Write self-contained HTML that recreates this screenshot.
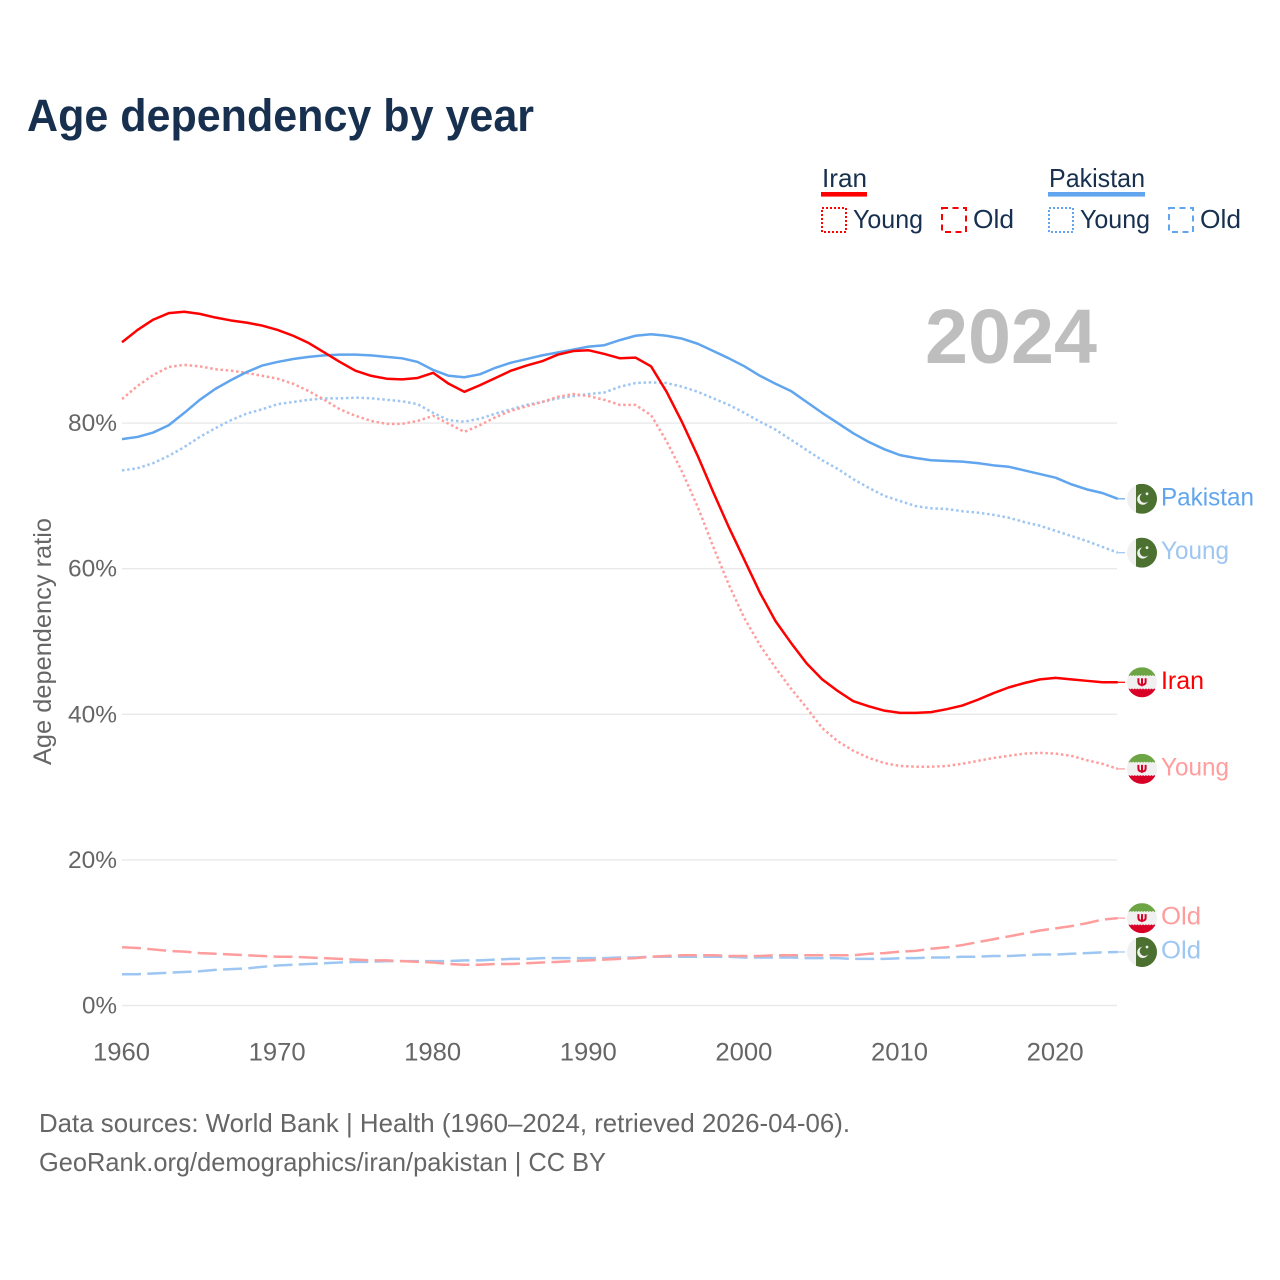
<!DOCTYPE html>
<html lang="en">
<head>
<meta charset="utf-8">
<title>Age dependency by year</title>
<style>
html,body{margin:0;padding:0;background:#fff;width:1280px;height:1280px;overflow:hidden}
svg{display:block}
text{font-family:"Liberation Sans",sans-serif}
</style>
</head>
<body>
<svg id="chart" width="1280" height="1280" viewBox="0 0 1280 1280" xmlns="http://www.w3.org/2000/svg">
  <defs>
    <clipPath id="flag-clip"><circle cx="0" cy="0" r="15"/></clipPath>
    <g id="flag-pk" clip-path="url(#flag-clip)">
      <rect x="-15" y="-15" width="30" height="30" fill="#f0f0f0"/>
      <rect x="-6" y="-15" width="21" height="30" fill="#4b7030"/>
      <circle cx="0.8" cy="0.4" r="5.6" fill="#f0f0f0"/>
      <circle cx="2.6" cy="-0.9" r="4.9" fill="#4b7030"/>
      <circle cx="5" cy="-5" r="1.4" fill="#f0f0f0"/>
    </g>
    <g id="flag-ir" clip-path="url(#flag-clip)">
      <rect x="-15" y="-15" width="30" height="30" fill="#f0f0f0"/>
      <rect x="-15" y="-15" width="30" height="8.6" fill="#6da544"/>
      <rect x="-15" y="6.4" width="30" height="9" fill="#d80027"/>
      <line x1="-15" y1="-6.4" x2="15" y2="-6.4" stroke="#f0f0f0" stroke-width="1.2" stroke-dasharray="1.4 1.4"/>
      <line x1="-15" y1="6.4" x2="15" y2="6.4" stroke="#f0f0f0" stroke-width="1.2" stroke-dasharray="1.4 1.4"/>
      <path d="M-3.6 -4 V-0.4 Q-3.6 2.6 0 2.6 Q3.6 2.6 3.6 -0.4 V-4 M0 -4 V4" fill="none" stroke="#d80027" stroke-width="2"/>
    </g>
  </defs>

  <text x="27" y="131" font-size="45" font-weight="700" fill="#18304f" textLength="507" lengthAdjust="spacingAndGlyphs">Age dependency by year</text>

  <g font-size="26" fill="#18304f">
    <g>
      <text x="822" y="187" textLength="45" lengthAdjust="spacingAndGlyphs">Iran</text>
      <rect x="821" y="192" width="46" height="4.6" fill="#ff0000"/>
      <rect x="822" y="208" width="24" height="24" fill="none" stroke="#ff0000" stroke-width="2" stroke-dasharray="2 2"/>
      <text x="853" y="228" textLength="70" lengthAdjust="spacingAndGlyphs">Young</text>
      <rect x="942" y="208" width="24" height="24" fill="none" stroke="#ff0000" stroke-width="2" stroke-dasharray="6 4.5"/>
      <text x="973" y="228" textLength="41" lengthAdjust="spacingAndGlyphs">Old</text>
    </g>
    <g>
      <text x="1049" y="187" textLength="96" lengthAdjust="spacingAndGlyphs">Pakistan</text>
      <rect x="1048" y="192" width="97" height="4.6" fill="#60a5ee"/>
      <rect x="1049" y="208" width="24" height="24" fill="none" stroke="#60a5ee" stroke-width="2" stroke-dasharray="2 2"/>
      <text x="1080" y="228" textLength="70" lengthAdjust="spacingAndGlyphs">Young</text>
      <rect x="1169" y="208" width="24" height="24" fill="none" stroke="#60a5ee" stroke-width="2" stroke-dasharray="6 4.5"/>
      <text x="1200" y="228" textLength="41" lengthAdjust="spacingAndGlyphs">Old</text>
    </g>
  </g>

  <text x="925" y="363" font-size="77" font-weight="700" fill="#bebebe" textLength="172" lengthAdjust="spacingAndGlyphs">2024</text>

  <g id="grid"></g>
  <g id="y-ticks"></g>
  <g id="x-ticks"></g>
  <text transform="translate(51,765) rotate(-90)" font-size="25" fill="#666666" textLength="247" lengthAdjust="spacingAndGlyphs">Age dependency ratio</text>
  <g id="series"></g>
  <g id="ends"></g>

  <text x="39" y="1132" font-size="26" fill="#666666" textLength="811" lengthAdjust="spacingAndGlyphs">Data sources: World Bank | Health (1960–2024, retrieved 2026-04-06).</text>
  <text x="39" y="1171" font-size="26" fill="#666666" textLength="567" lengthAdjust="spacingAndGlyphs">GeoRank.org/demographics/iran/pakistan | CC BY</text>
</svg>
<script>
const startYear = 1960;
const xTickYears = [1960, 1970, 1980, 1990, 2000, 2010, 2020];
const xTickWidths = [57];
const yTickValues = [0, 20, 40, 60, 80];

const iranTotal = [91.1,92.8,94.2,95.1,95.3,95.0,94.5,94.1,93.8,93.4,
  92.8,92.0,91.0,89.7,88.4,87.2,86.5,86.1,86.0,86.2,
  86.9,85.4,84.3,85.2,86.2,87.2,87.9,88.5,89.4,89.9,
  90.0,89.5,88.9,89.0,87.8,84.3,80.1,75.5,70.5,65.7,
  61.2,56.7,52.8,49.8,47.0,44.8,43.2,41.8,41.1,40.5,
  40.2,40.2,40.3,40.7,41.2,42.0,42.9,43.7,44.3,44.8,
  45.0,44.8,44.6,44.4,44.4];
const pakistanTotal = [77.8,78.1,78.7,79.7,81.4,83.2,84.7,85.9,87.0,87.9,
  88.4,88.8,89.1,89.3,89.4,89.4,89.3,89.1,88.9,88.4,
  87.3,86.5,86.3,86.7,87.6,88.3,88.8,89.3,89.7,90.1,
  90.5,90.7,91.4,92.0,92.2,92.0,91.6,90.9,89.9,88.9,
  87.8,86.5,85.4,84.4,82.9,81.4,80.0,78.6,77.4,76.4,
  75.6,75.2,74.9,74.8,74.7,74.5,74.2,74.0,73.5,73.0,
  72.5,71.6,70.9,70.4,69.6];
const iranYoung = [83.3,85.1,86.6,87.7,88.0,87.8,87.4,87.2,86.9,86.5,
  86.1,85.4,84.4,83.2,81.9,81.0,80.3,79.9,79.9,80.3,
  81.0,79.9,78.8,79.7,80.8,81.7,82.3,82.9,83.6,84.0,
  83.7,83.2,82.5,82.5,81.1,77.5,73.3,68.5,63.0,57.8,
  53.2,49.5,46.4,43.5,40.9,38.1,36.3,35.0,34.0,33.3,
  32.9,32.8,32.8,32.9,33.2,33.6,34.0,34.3,34.6,34.7,
  34.6,34.3,33.7,33.2,32.5];
const pakistanYoung = [73.5,73.8,74.5,75.5,76.7,78.1,79.3,80.4,81.3,81.9,
  82.6,82.9,83.2,83.4,83.4,83.5,83.4,83.2,83.0,82.6,
  81.4,80.4,80.2,80.6,81.3,81.9,82.5,82.9,83.4,83.7,
  84.0,84.2,85.0,85.5,85.6,85.5,85.0,84.3,83.4,82.5,
  81.4,80.2,79.1,77.7,76.3,74.9,73.7,72.3,71.1,70.0,
  69.3,68.6,68.3,68.2,67.9,67.7,67.4,67.0,66.4,65.9,
  65.2,64.5,63.8,63.0,62.2];
const iranOld = [8.0,7.9,7.7,7.5,7.4,7.2,7.1,7.0,6.9,6.8,
  6.7,6.7,6.6,6.5,6.4,6.3,6.2,6.2,6.1,6.0,
  5.9,5.7,5.6,5.6,5.7,5.7,5.8,5.9,6.0,6.1,
  6.2,6.3,6.4,6.5,6.7,6.8,6.9,6.9,6.9,6.8,
  6.8,6.8,6.9,6.9,6.9,6.9,6.9,6.9,7.1,7.2,
  7.4,7.5,7.8,8.0,8.3,8.7,9.1,9.5,9.9,10.3,
  10.6,10.9,11.3,11.8,12.0];
const pakistanOld = [4.3,4.3,4.4,4.5,4.6,4.7,4.9,5.0,5.1,5.3,
  5.5,5.6,5.7,5.8,5.9,6.0,6.0,6.1,6.1,6.1,
  6.1,6.1,6.2,6.2,6.3,6.4,6.4,6.5,6.5,6.5,
  6.5,6.5,6.6,6.6,6.7,6.7,6.7,6.7,6.7,6.7,
  6.6,6.6,6.6,6.6,6.5,6.5,6.5,6.4,6.4,6.4,
  6.5,6.5,6.6,6.6,6.7,6.7,6.8,6.8,6.9,7.0,
  7.0,7.1,7.2,7.3,7.35];

const NS = 'http://www.w3.org/2000/svg';
const xScale = function (i) { return 122 + i * 15.56; };
const yScale = function (v) { return 1005.5 - v * 7.28; };
const $ = function (id) { return document.getElementById(id); };

/* gridlines and y ticks */
yTickValues.forEach(function (v) {
  const g = document.createElementNS(NS, 'line');
  
  
  g.setAttribute('x1', 122);
  g.setAttribute('x2', 1117);
  g.setAttribute('y1', yScale(v));
  g.setAttribute('y2', yScale(v));
  g.setAttribute('stroke', '#e9e9e9');
  g.setAttribute('stroke-width', '1.4');
  $('grid').appendChild(g);

  const t = document.createElementNS(NS, 'text');
  
  
  t.setAttribute('x', 117);
  t.setAttribute('y', yScale(v) + 8);
  t.setAttribute('text-anchor', 'end');
  t.setAttribute('font-size', '24');
  t.setAttribute('fill', '#666666');
  t.setAttribute('textLength', v === 0 ? 35 : 49);
  t.setAttribute('lengthAdjust', 'spacingAndGlyphs');
  t.textContent = v + '%';
  $('y-ticks').appendChild(t);
});

/* x ticks */
xTickYears.forEach(function (yr) {
  const t = document.createElementNS(NS, 'text');
  
  
  t.setAttribute('x', xScale(yr - startYear) - 0.5);
  t.setAttribute('y', 1060.5);
  t.setAttribute('text-anchor', 'middle');
  t.setAttribute('font-size', '25');
  t.setAttribute('fill', '#666666');
  t.setAttribute('textLength', xTickWidths[0]);
  t.setAttribute('lengthAdjust', 'spacingAndGlyphs');
  t.textContent = String(yr);
  $('x-ticks').appendChild(t);
});

/* series drawn back to front */
const seriesList = [
  { key: 'pakistan-old', values: pakistanOld, color: '#9dc6f2', dash: '19 6.3', flag: 'flag-pk', label: 'Old', w: 40 },
  { key: 'iran-old', values: iranOld, color: '#ff9d9d', dash: '19 6.3', flag: 'flag-ir', label: 'Old', w: 40 },
  { key: 'pakistan-young', values: pakistanYoung, color: '#9dc6f2', dash: '2.5 2.7', flag: 'flag-pk', label: 'Young', w: 68 },
  { key: 'iran-young', values: iranYoung, color: '#ff9d9d', dash: '2.5 2.7', flag: 'flag-ir', label: 'Young', w: 68 },
  { key: 'pakistan', values: pakistanTotal, color: '#60a5ee', dash: '', flag: 'flag-pk', label: 'Pakistan', w: 93 },
  { key: 'iran', values: iranTotal, color: '#ff0000', dash: '', flag: 'flag-ir', label: 'Iran', w: 43 }
];

seriesList.forEach(function (s) {
  const pts = s.values.map(function (v, i) {
    return xScale(i).toFixed(2) + ',' + yScale(v).toFixed(2);
  }).join(' ');
  const line = document.createElementNS(NS, 'polyline');
  
  
  line.setAttribute('points', pts);
  line.setAttribute('fill', 'none');
  line.setAttribute('stroke', s.color);
  line.setAttribute('stroke-width', '2.5');
  line.setAttribute('stroke-linejoin', 'round');
  if (s.dash) line.setAttribute('stroke-dasharray', s.dash);
  $('series').appendChild(line);

  const last = s.values[s.values.length - 1];
  const ey = yScale(last);
  const ex = xScale(s.values.length - 1);

  const conn = document.createElementNS(NS, 'line');
  
  
  conn.setAttribute('x1', ex);
  conn.setAttribute('x2', 1125);
  conn.setAttribute('y1', ey);
  conn.setAttribute('y2', ey);
  conn.setAttribute('stroke', s.color);
  conn.setAttribute('stroke-width', '1.2');
  $('ends').appendChild(conn);

  const flag = document.createElementNS(NS, 'use');
  
  
  flag.setAttribute('href', '#' + s.flag);
  flag.setAttribute('transform', 'translate(1142,' + ey + ')');
  $('ends').appendChild(flag);

  const lab = document.createElementNS(NS, 'text');
  
  
  lab.setAttribute('x', 1161);
  lab.setAttribute('y', ey + 6.5);
  lab.setAttribute('font-size', '25');
  lab.setAttribute('fill', s.color);
  lab.setAttribute('textLength', s.w);
  lab.setAttribute('lengthAdjust', 'spacingAndGlyphs');
  lab.textContent = s.label;
  $('ends').appendChild(lab);
});
</script>
</body>
</html>
